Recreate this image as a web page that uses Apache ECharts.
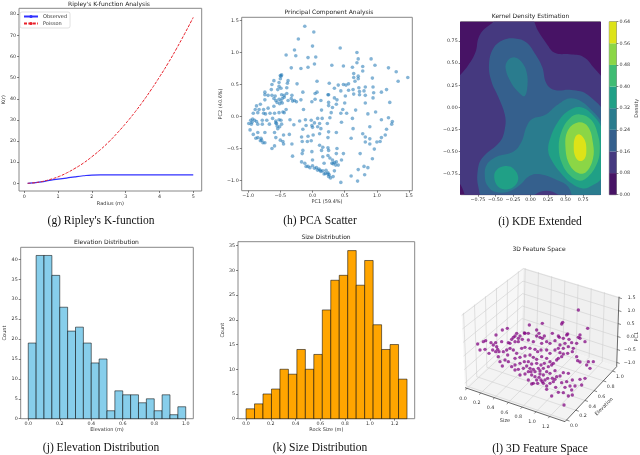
<!DOCTYPE html>
<html>
<head>
<meta charset="utf-8">
<title>Rock field analysis panels</title>
<script src="https://cdn.jsdelivr.net/npm/echarts@6/dist/echarts.min.js"></script>
<style>
  html, body { margin: 0; padding: 0; background: #fff; }
  #chart { width: 640px; height: 455px; }
</style>
</head>
<body>
<div id="chart"></div>
<script>
// (g) Ripley's K
const radii = [0.1,0.25,0.5,0.75,1,1.25,1.5,1.75,2,2.25,2.5,2.75,3,3.25,3.5,3.75,4,4.25,4.5,4.75,5];
const kObserved = [0.03,0.2,0.7,1.4,2.0,2.5,3.1,3.6,3.95,4.05,4.05,4.05,4.05,4.05,4.05,4.05,4.05,4.05,4.05,4.05,4.05];
const kPoisson = [0.03,0.2,0.8,1.8,3.1,4.9,7.1,9.6,12.6,15.9,19.6,23.8,28.3,33.2,38.5,44.2,50.3,56.7,63.6,70.9,78.5];

// (h) PCA scatter, [PC1, PC2]
const pcaPoints = [
[-0.12,1.41],[0.02,1.32],[-0.22,1.21],[-0.28,1.04],[0,1.10],[-0.41,0.96],[-0.26,0.95],[-0.07,0.92],[0.05,0.93],[0.03,0.82],
[-0.33,0.76],[-0.18,0.75],[-0.07,0.77],[0.07,0.55],[-0.24,0.51],[-0.48,0.65],[-0.50,0.64],[-0.49,0.63],[-0.50,0.59],[-0.60,0.56],
[-0.52,0.53],[-0.38,0.56],[-0.39,0.52],[-0.63,0.50],[-0.52,0.47],[-0.49,0.44],[-0.54,0.42],[-0.64,0.42],[-0.40,0.45],[-0.74,0.38],
[-0.74,0.34],[-0.69,0.33],[-0.63,0.33],[-0.58,0.32],[-0.48,0.34],[-0.44,0.33],[-0.40,0.36],[-0.32,0.33],[-0.15,0.38],[0.04,0.36],
[0.07,0.38],[0.25,0.34],[0.26,0.52],[-0.60,0.28],[-0.57,0.25],[-0.52,0.27],[-0.49,0.24],[-0.47,0.28],[-0.44,0.30],[-0.74,0.26],
[-0.38,0.25],[-0.33,0.28],[-0.28,0.25],[-0.18,0.26],[0.04,0.27],[0.13,0.25],[-0.87,0.165],[-0.81,0.19],[-0.83,0.11],[-0.89,0.11],
[-0.76,0.11],[-0.69,0.13],[-0.60,0.16],[-0.51,0.20],[-0.47,0.21],[-0.55,0.22],[-0.41,0.11],[-0.31,0.24],[-0.25,0.23],[-0.14,0.11],
[-0.01,0.23],[0.14,0.10],[0.25,0.17],[-0.92,0.05],[-0.85,0.06],[-0.76,0.05],[-0.73,0.04],[-0.66,0.05],[-0.59,0.05],[-0.52,0.06],
[-0.46,0.07],[-0.44,0.06],[-0.96,-0.06],[-0.99,-0.11],[-0.95,-0.12],[-0.90,-0.06],[-0.93,-0.04],[-0.87,-0.08],[-0.85,-0.12],[-0.94,-0.09],
[-0.78,-0.06],[-0.71,-0.06],[-0.78,-0.12],[-0.67,-0.12],[-0.62,-0.03],[-0.57,-0.07],[-0.52,-0.05],[-0.49,-0.06],[-0.57,-0.10],[-0.55,-0.15],
[-0.51,-0.16],[-0.48,-0.12],[-0.54,-0.19],[-0.56,-0.11],[-0.35,-0.05],[-0.29,-0.13],[-0.20,-0.07],[-0.11,-0.05],[-0.02,-0.06],[0.08,-0.03],
[0.15,-0.03],[-0.15,-0.20],[-0.10,-0.14],[-0.01,-0.14],[0,-0.17],[0.08,-0.16],[0.11,-0.11],[0.03,-0.10],[0.13,-0.19],[-0.97,-0.21],
[-0.85,-0.25],[-0.74,-0.25],[-0.59,-0.25],[-0.92,-0.28],[-0.45,-0.29],[-0.36,-0.28],[-0.17,-0.32],[-0.07,-0.31],[0.01,-0.29],[0.11,-0.27],
[0.25,-0.24],[-0.85,-0.33],[-0.88,-0.34],[-0.80,-0.34],[-0.81,-0.38],[-0.79,-0.37],[-0.57,-0.33],[-0.50,-0.37],[-0.46,-0.39],[-0.77,-0.41],
[-0.74,-0.41],[-0.59,-0.46],[-0.63,-0.50],[-0.45,-0.43],[-0.32,-0.43],[-0.16,-0.39],[-0.08,-0.39],[-0.02,-0.38],[0.11,-0.45],[0.16,-0.48],
[-0.15,-0.53],[-0.16,-0.58],[-0.01,-0.55],[0.14,-0.53],[-0.31,-0.62],[0.25,-0.53],[0.16,-0.63],[0,-0.68],[-0.17,-0.71],[-0.12,-0.73],
[-0.07,-0.78],[-0.04,-0.80],[0,-0.77],[0.03,-0.81],[0.06,-0.80],[0.10,-0.82],[0.12,-0.84],[0.13,-0.86],[0.08,-0.84],[0.16,-0.85],
[0.18,-0.90],[0.24,-0.88],[0.25,-0.94],[-0.10,-0.78],
[0.43,1.07],[0.69,1.00],[0.71,0.90],[0.69,0.84],[0.91,0.90],[0.97,0.80],[0.30,0.80],[0.48,0.79],[0.62,0.77],[0.78,0.78],
[0.78,0.71],[1.18,0.76],[1.30,0.70],[1.48,0.61],[1.33,0.55],[0.64,0.67],[0.64,0.61],[0.71,0.63],[0.71,0.59],[0.66,0.55],
[0.93,0.60],[0.48,0.50],[0.52,0.49],[0.56,0.51],[0.40,0.49],[0.34,0.44],[0.44,0.40],[0.56,0.41],[0.63,0.42],[0.72,0.45],
[0.82,0.46],[0.94,0.46],[0.73,0.39],[0.80,0.40],[1.15,0.42],[1.07,0.38],[0.95,0.37],[0.94,0.29],[0.64,0.35],[0.73,0.34],
[0.82,0.33],[0.24,0.34],[0.34,0.29],[0.38,0.26],[0.51,0.32],[0.25,0.22],[0.50,0.21],[0.82,0.21],[1.20,0.22],[0.37,0.19],
[0.31,0.14],[0.47,0.11],[0.67,0.10],[0.29,0.06],[0.44,0.05],[0.53,0.05],[0.86,0.04],[0.98,0.07],[0.27,-0.02],[0.62,-0.03],
[1.07,-0.05],[1.18,-0.02],[0.23,-0.11],[0.45,-0.09],[1.24,-0.08],[1.23,-0.12],[0.89,-0.16],[1.15,-0.20],[0.63,-0.19],[0.37,-0.25],
[0.78,-0.27],[1.13,-0.29],[0.24,-0.33],[0.60,-0.34],[0.82,-0.32],[1.07,-0.33],[0.89,-0.35],[0.82,-0.40],[0.89,-0.43],[1.0,-0.40],
[1.05,-0.39],[0.96,-0.51],[0.24,-0.49],[0.38,-0.50],[0.24,-0.61],[0.37,-0.58],[0.48,-0.58],[0.74,-0.58],[0.93,-0.66],[0.27,-0.65],
[0.31,-0.68],[0.34,-0.72],[0.32,-0.74],[0.30,-0.73],[0.37,-0.71],[0.45,-0.68],[0.40,-0.76],[0.36,-0.76],[0.18,-0.73],[0.21,-0.84],
[0.20,-0.89],[0.26,-0.91],[0.32,-0.94],[0.28,-0.96],[0.34,-0.85],[0.71,-0.83],[0.80,-0.78],[0.86,-0.80],[0.81,-0.91],[0.60,-0.93],
[0.70,-1.01],[0.44,-1.03],[0.24,-0.90]
];

// (i) KDE: filled contour outlines, painted lowest band first
const densityLevels = [0,0.08,0.16,0.24,0.32,0.40,0.48,0.56,0.64];
const bandColors = ['#471365','#45397f','#35608d','#2a7c8e','#20a086','#3fbc73','#8bd646','#dde318'];
const kdeContours = [
  { band: 0, pts: [[-1.2,-1.2],[1.2,-1.2],[1.2,1.2],[-1.2,1.2]] },
  { band: 1, pts: [[-1.15,0.26],[-0.995,0.373],[-0.886,0.478],[-0.782,0.629],[-0.744,0.779],[-0.673,0.873],[-0.555,0.949],[-0.436,1.02],[-0.009,1.02],[0.109,0.862],[0.227,0.723],[0.346,0.617],[0.559,0.599],[0.749,0.572],[0.891,0.459],[1.05,0.27],[1.2,-1.2],[-0.80,-1.15],[-0.995,-0.877],[-1.15,-0.72]] },
  { band: 2, pts: [[-0.744,-0.896],[-0.744,-0.670],[-0.673,-0.557],[-0.436,-0.388],[-0.365,-0.237],[-0.365,-0.087],[-0.460,0.120],[-0.555,0.290],[-0.592,0.478],[-0.531,0.666],[-0.389,0.761],[-0.223,0.779],[-0.057,0.734],[0.062,0.610],[0.166,0.459],[0.227,0.271],[0.346,0.196],[0.583,0.196],[0.820,0.139],[1.1,-0.15],[1.15,-1.15],[0.42,-1.05],[0.393,-0.986],[0.227,-0.941],[0.062,-0.986],[0.03,-1.05],[-0.62,-1.1]] },
  { band: 3, pts: [[-0.355,0.441],[-0.318,0.535],[-0.223,0.565],[-0.128,0.516],[-0.057,0.403],[-0.043,0.252],[-0.081,0.128],[-0.152,0.158],[-0.270,0.271]] },
  { band: 3, pts: [[-0.649,-0.802],[-0.626,-0.651],[-0.483,-0.557],[-0.246,-0.501],[-0.128,-0.388],[-0.057,-0.218],[0.024,-0.132],[0.204,-0.087],[0.393,0.034],[0.583,0.102],[0.820,0.008],[1.05,-0.25],[1.15,-1.15],[0.66,-1.1],[0.536,-0.896],[0.346,-0.809],[0.156,-0.757],[-0.009,-0.772],[-0.152,-0.877],[-0.318,-0.953],[-0.507,-0.953],[-0.602,-0.896]] },
  { band: 4, pts: [[-0.517,-0.791],[-0.483,-0.708],[-0.365,-0.663],[-0.246,-0.689],[-0.175,-0.791],[-0.223,-0.885],[-0.341,-0.926],[-0.460,-0.896]] },
  { band: 4, pts: [[0.251,-0.482],[0.289,-0.331],[0.393,-0.162],[0.536,-0.041],[0.701,0.004],[0.867,-0.068],[1.02,-0.25],[1.05,-0.60],[1.02,-0.79],[0.891,-0.877],[0.749,-0.915],[0.583,-0.858],[0.417,-0.727],[0.299,-0.595]] },
  { band: 5, pts: [[0.403,-0.463],[0.441,-0.275],[0.559,-0.124],[0.701,-0.079],[0.867,-0.143],[0.962,-0.313],[0.986,-0.501],[0.938,-0.651],[0.820,-0.783],[0.701,-0.828],[0.559,-0.764],[0.450,-0.633]] },
  { band: 6, pts: [[0.498,-0.444],[0.536,-0.256],[0.687,-0.169],[0.820,-0.218],[0.891,-0.407],[0.891,-0.576],[0.796,-0.727],[0.687,-0.745],[0.559,-0.651]] },
  { band: 7, pts: [[0.616,-0.444],[0.640,-0.331],[0.701,-0.305],[0.773,-0.369],[0.796,-0.482],[0.773,-0.576],[0.701,-0.606],[0.640,-0.557]] }
];

// (j) (k) histograms
const elevationCounts = [19,41,41,36,28,22,23,19,14,15,2,7,6,6,4,5,2,6,1,3];
const sizeCounts = [2,3,5,6,10,9,14,10,13,22,28,29,34,27,32,19,14,15,8];

// (l) the 3D points only exist in the picture as their projected position,
// so they are kept as [u, v] in the view plane of the 3D box
const featureView = [
[340,30],[368,85],[293,67],[290,72],[232,70],[193,75],[127,85],[112,90],[93,105],[178,99],[215,90],[222,100],[262,100],[280,108],[308,102],[345,105],[340,112],
[38,132],[55,125],[62,122],[78,128],[92,128],[85,135],[95,140],[110,125],[130,128],[140,118],[145,112],[155,100],[150,108],[160,115],[165,108],[172,118],[180,100],[190,100],[135,130],[150,125],[160,125],[190,120],[205,125],[215,108],[225,112],[232,115],[238,108],[230,130],[245,125],[255,130],[270,122],[283,112],[295,115],[305,105],[312,118],[320,128],[335,130],[345,115],[360,125],[300,130],[285,135],[280,145],[295,145],[310,140],[325,145],
[45,150],[60,148],[72,160],[83,150],[98,148],[102,155],[92,155],[115,155],[125,150],[135,145],[145,150],[155,160],[128,165],[170,145],[180,142],[195,145],[210,148],[218,155],[228,150],[245,150],[255,160],[270,150],[285,158],[295,162],[308,160],[322,155],[290,170],[280,175],
[100,170],[120,180],[130,185],[150,175],[165,172],[180,168],[195,165],[205,172],[215,178],[230,170],[245,175],[255,185],[265,190],[275,180],[105,185],[112,198],[140,200],[150,195],[165,190],[178,185],[190,185],[200,192],[215,190],[228,195],[238,190],[250,200],[260,195],[338,182],[345,186],[370,185],[385,185],[365,195],[375,205],[335,170],
[150,210],[160,208],[175,205],[185,198],[195,205],[205,208],[220,205],[235,205],[245,215],[255,220],[270,212],[210,215],[225,212],[198,215],
[165,225],[180,222],[190,215],[200,225],[210,230],[225,222],[235,225],[215,240],[228,240],[240,240],[248,235],[190,240],[205,250],[218,250],[235,250],[245,258],[245,268],[255,250],[265,245],[275,230],[285,228],[295,218],[310,220],[322,240],[345,238],[360,235],[330,258],[350,255],[305,245],[290,248],[270,238],[262,235],
[260,288],[272,262],[280,277],[295,278],[300,262],[315,258],[320,270],[310,288],[322,285],[297,315],[200,252],[222,232],[232,245]
];
const size3dTicks = [0,0.2,0.4,0.6,0.8,1.0,1.2];
const elevation3dTicks = [0,0.2,0.4,0.6,0.8,1.0];
const z3dTicks = [-1,-0.5,0,0.5,1,1.5];

const ink = '#333';
const frameGray = '#888';
const tickFont = 'DejaVu Sans';

function fmt(d) {
  return function (v) { return v.toFixed(d).replace('-', '\u2212'); };
}

function valueAxis(gridIndex, min, max, ticks, digits, name, nameGap, extra) {
  return Object.assign({
    type: 'value', gridIndex: gridIndex, min: min, max: max,
    splitLine: { show: false },
    axisLine: { show: false, onZero: false },
    axisTick: { show: true, length: 2, customValues: ticks, lineStyle: { color: ink, width: 0.6 } },
    axisLabel: { customValues: ticks, formatter: fmt(digits), fontSize: 4.8, color: ink, margin: 3, fontFamily: tickFont },
    name: name, nameLocation: 'middle', nameGap: nameGap,
    nameTextStyle: { fontSize: 5, color: ink, fontFamily: tickFont }
  }, extra || {});
}

function boxGrid(left, top, width, height) {
  return { left: left, top: top, width: width, height: height, show: true, borderColor: frameGray, borderWidth: 1, backgroundColor: 'transparent' };
}

function histSeries(counts, start, binWidth, color, axisIdx) {
  return {
    type: 'custom', xAxisIndex: axisIdx, yAxisIndex: axisIdx,
    data: counts.map(function (c, i) { return [start + i * binWidth, c]; }),
    renderItem: function (params, api) {
      const a = api.coord([api.value(0), 0]);
      const b = api.coord([api.value(0) + binWidth, api.value(1)]);
      return { type: 'rect', shape: { x: a[0], y: b[1], width: b[0] - a[0], height: a[1] - b[1] },
               style: { fill: color, stroke: 'rgba(0,0,0,0.6)', lineWidth: 0.9 } };
    }
  };
}

function label(text, x, y, size, family) {
  return { text: text, left: x, top: y, textAlign: 'center', textVerticalAlign: 'middle', padding: 0,
           textStyle: { fontSize: size, fontWeight: 'normal', color: family ? '#111' : '#222', fontFamily: family || tickFont } };
}

// box of the 3D panel in view-plane units: floor corners then top corners
const floorCorners = [[0,263],[300,365],[455,200],[170,105]];
const topCorners = [[-10,43],[300,150],[462,-10],[175,-97]];
function lerp(a, b, t) { return [a[0] + (b[0] - a[0]) * t, a[1] + (b[1] - a[1]) * t]; }
function boxPoint(tx, ty, tz) {
  const f = lerp(lerp(floorCorners[0], floorCorners[1], tx), lerp(floorCorners[3], floorCorners[2], tx), ty);
  const t = lerp(lerp(topCorners[0], topCorners[1], tx), lerp(topCorners[3], topCorners[2], tx), ty);
  return lerp(f, t, tz);
}
function sizeT(s) { return 0.02 + s * 0.69; }
function elevT(e) { return 0.03 + e * 0.89; }
function zT(z) { return 0.06 + (z + 1) * 0.37; }

function renderBox(params, api) {
  const kids = [];
  const P = function (p) { return api.coord(p); };
  const pane = function (pts, fill) {
    kids.push({ type: 'polygon', shape: { points: pts.map(P) }, style: { fill: fill } });
  };
  const seg = function (p, q, color, w) {
    const a = P(p), b = P(q);
    kids.push({ type: 'line', shape: { x1: a[0], y1: a[1], x2: b[0], y2: b[1] }, style: { stroke: color, lineWidth: w } });
  };
  const text = function (str, p, size, rot) {
    const c = P(p);
    kids.push({ type: 'text', x: c[0], y: c[1], rotation: rot || 0,
      style: { text: str, fontSize: size, fontFamily: tickFont, fill: ink, align: 'center', verticalAlign: 'middle' } });
  };
  pane([boxPoint(0,0,0), boxPoint(1,0,0), boxPoint(1,1,0), boxPoint(0,1,0)], '#f3f3f3');
  pane([boxPoint(0,0,0), boxPoint(0,1,0), boxPoint(0,1,1), boxPoint(0,0,1)], '#f7f7f7');
  pane([boxPoint(0,1,0), boxPoint(1,1,0), boxPoint(1,1,1), boxPoint(0,1,1)], '#f0f0f0');
  const gridC = '#cfcfcf';
  size3dTicks.forEach(function (s) {
    const t = sizeT(s);
    seg(boxPoint(t,0,0), boxPoint(t,1,0), gridC, 0.6);
    seg(boxPoint(t,1,0), boxPoint(t,1,1), gridC, 0.6);
    seg(boxPoint(t,0,0), boxPoint(t,-0.03,0), ink, 0.6);
    const q = boxPoint(t,0,0);
    text(s.toFixed(1), [q[0] - 12, q[1] + 30], 4.8);
  });
  elevation3dTicks.forEach(function (e) {
    const t = elevT(e);
    seg(boxPoint(0,t,0), boxPoint(1,t,0), gridC, 0.6);
    seg(boxPoint(0,t,0), boxPoint(0,t,1), gridC, 0.6);
    seg(boxPoint(1,t,0), boxPoint(1.03,t,0), ink, 0.6);
    const q = boxPoint(1,t,0);
    text(e.toFixed(1), [q[0] + 22, q[1] + 18], 4.8);
  });
  z3dTicks.forEach(function (z) {
    const t = zT(z);
    seg(boxPoint(0,0,t), boxPoint(0,1,t), gridC, 0.6);
    seg(boxPoint(0,1,t), boxPoint(1,1,t), gridC, 0.6);
    seg(boxPoint(1,1,t), boxPoint(1.03,1,t), ink, 0.6);
    const q = boxPoint(1,1,t);
    text(z.toFixed(1).replace('-', '\u2212'), [q[0] + 38, q[1]], 4.8);
  });
  seg(boxPoint(0,0,0), boxPoint(1,0,0), '#444', 0.8);
  seg(boxPoint(1,0,0), boxPoint(1,1,0), '#444', 0.8);
  seg(boxPoint(1,1,0), boxPoint(1,1,1), '#444', 0.8);
  text('Size', [120, 363], 5);
  text('Elevation', [417, 320], 5, Math.PI / 4);
  text('PC1', [516, 110], 5, Math.PI / 2);
  return { type: 'group', children: kids };
}

const myChart = echarts.init(document.getElementById('chart'), null, { renderer: 'canvas' });

const option = {
  animation: false,
  backgroundColor: '#fff',
  title: [
    label("Ripley's K-function Analysis", 109, 4.5, 6),
    label('Principal Component Analysis', 329, 12.5, 6),
    label('Kernel Density Estimation', 530.5, 16.5, 6),
    label('Elevation Distribution', 106.5, 242.5, 6),
    label('Size Distribution', 326, 237, 6),
    label('3D Feature Space', 539, 249, 6),
    label("(g) Ripley's K-function", 101, 221, 11.5, 'Liberation Serif'),
    label('(h) PCA Scatter', 320, 221, 11.5, 'Liberation Serif'),
    label('(i) KDE Extended', 540, 222, 11.5, 'Liberation Serif'),
    label('(j) Elevation Distribution', 101, 448, 11.5, 'Liberation Serif'),
    label('(k) Size Distribution', 320, 448, 11.5, 'Liberation Serif'),
    label('(l) 3D Feature Space', 540, 449, 11.5, 'Liberation Serif')
  ],
  legend: {
    data: ['Observed', 'Poisson'], left: 20, top: 12, orient: 'vertical',
    itemWidth: 14, itemHeight: 4, itemGap: 2, padding: [2, 3], borderColor: '#ccc', borderWidth: 0.6, borderRadius: 2,
    textStyle: { fontSize: 5, color: ink, fontFamily: tickFont }
  },
  grid: [
    boxGrid(17.3, 8.3, 184.4, 182.7),
    boxGrid(241.7, 17.3, 170.6, 173.4),
    boxGrid(460.7, 21.7, 139.6, 173),
    boxGrid(609.3, 21.7, 8.7, 173),
    boxGrid(20.7, 247.3, 172.6, 171.4),
    boxGrid(238, 241.7, 176.7, 177),
    { left: 420, top: 225, width: 220, height: 230, show: false }
  ],
  xAxis: [
    valueAxis(0, -0.156, 5.25, [0,1,2,3,4,5], 0, 'Radius (m)', 10),
    valueAxis(1, -1.1, 1.55, [-1,-0.5,0,0.5,1,1.5], 1, 'PC1 (59.4%)', 9),
    valueAxis(2, -0.995, 0.995, [-0.75,-0.5,-0.25,0,0.25,0.5,0.75], 2, '', 0),
    { type: 'value', gridIndex: 3, min: 0, max: 1, show: false },
    valueAxis(4, -0.048, 1.048, [0,0.2,0.4,0.6,0.8,1], 1, 'Elevation (m)', 9),
    valueAxis(5, -0.065, 1.362, [0,0.2,0.4,0.6,0.8,1,1.2], 1, 'Rock Size (m)', 9),
    { type: 'value', gridIndex: 6, min: -135, max: 525, show: false }
  ],
  yAxis: [
    valueAxis(0, -3.6, 82.8, [0,10,20,30,40,50,60,70,80], 0, 'K(r)', 10),
    valueAxis(1, -1.16, 1.55, [-1,-0.5,0,0.5,1,1.5], 1, 'PC2 (40.6%)', 16),
    valueAxis(2, -0.986, 0.968, [-0.75,-0.5,-0.25,0,0.25,0.5,0.75], 2, '', 0),
    valueAxis(3, 0, 0.64, densityLevels, 2, 'Density', 15, { position: 'right', nameRotate: 90 }),
    valueAxis(4, 0, 43.05, [0,5,10,15,20,25,30,35,40], 0, 'Count', 11),
    valueAxis(5, 0, 35.8, [0,5,10,15,20,25,30,35], 0, 'Count', 11),
    { type: 'value', gridIndex: 6, min: -225, max: 465, inverse: true, show: false }
  ],
  series: [
    {
      name: 'Observed', type: 'line', xAxisIndex: 0, yAxisIndex: 0, symbol: 'none', smooth: true,
      data: radii.map(function (r, i) { return [r, kObserved[i]]; }),
      lineStyle: { color: '#3030ff', width: 1.2 }, itemStyle: { color: '#3030ff' }
    },
    {
      name: 'Poisson', type: 'line', xAxisIndex: 0, yAxisIndex: 0, symbol: 'none', smooth: true,
      data: radii.map(function (r, i) { return [r, kPoisson[i]]; }),
      lineStyle: { color: '#e8202a', width: 1, type: [3, 1.4] }, itemStyle: { color: '#e8202a' }
    },
    {
      type: 'scatter', xAxisIndex: 1, yAxisIndex: 1, data: pcaPoints, symbolSize: 3.6,
      itemStyle: { color: '#1f77b4', opacity: 0.55 }
    },
    {
      type: 'custom', xAxisIndex: 2, yAxisIndex: 2, clip: true,
      data: kdeContours.map(function (c) { return c.pts[0]; }),
      renderItem: function (params, api) {
        const c = kdeContours[params.dataIndex];
        return { type: 'polygon',
          shape: { points: c.pts.map(function (p) { return api.coord(p); }), smooth: c.band === 0 ? 0 : 0.4 },
          style: { fill: bandColors[c.band] } };
      }
    },
    {
      type: 'custom', xAxisIndex: 3, yAxisIndex: 3,
      data: bandColors.map(function (c, i) { return [0, densityLevels[i]]; }),
      renderItem: function (params, api) {
        const i = params.dataIndex;
        const a = api.coord([0, densityLevels[i]]);
        const b = api.coord([1, densityLevels[i + 1]]);
        return { type: 'rect', shape: { x: a[0], y: b[1], width: b[0] - a[0], height: a[1] - b[1] },
                 style: { fill: bandColors[i] } };
      }
    },
    histSeries(elevationCounts, 0, 0.05, '#87ceeb', 4),
    histSeries(sizeCounts, 0, 1.3 / 19, '#ffa500', 5),
    {
      type: 'custom', xAxisIndex: 6, yAxisIndex: 6, silent: true, clip: false,
      data: [[0, 0]], renderItem: renderBox, z: 1
    },
    {
      type: 'scatter', xAxisIndex: 6, yAxisIndex: 6, data: featureView, symbolSize: 3.4, z: 2,
      itemStyle: { color: '#800080', opacity: 0.72 }
    }
  ]
};
myChart.setOption(option);
</script>
</body>
</html>
